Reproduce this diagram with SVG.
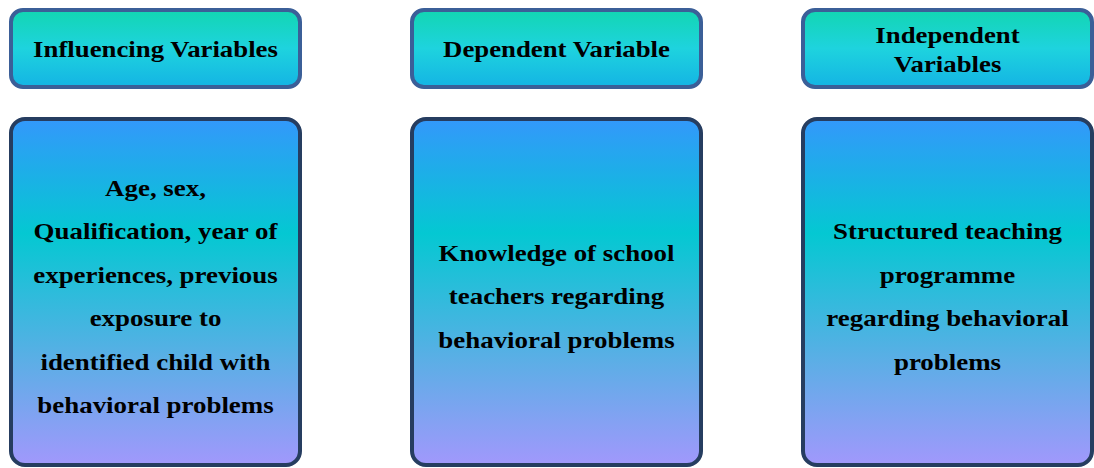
<svg xmlns="http://www.w3.org/2000/svg" width="1094" height="468" viewBox="0 0 1094 468">
  <defs>
    <linearGradient id="headFill" x1="0" y1="0" x2="0" y2="1">
      <stop offset="0" stop-color="#12d6b2"/>
      <stop offset="0.5" stop-color="#1ed3de"/>
      <stop offset="1" stop-color="#14b4e4"/>
    </linearGradient>
    <linearGradient id="bodyFill" x1="0" y1="0" x2="0" y2="1">
      <stop offset="0" stop-color="#3398fb"/>
      <stop offset="0.33" stop-color="#04c8d2"/>
      <stop offset="0.7" stop-color="#5caee6"/>
      <stop offset="1" stop-color="#a198fc"/>
    </linearGradient>
  </defs>
  <style>
    .head { fill: url(#headFill); stroke: #3b5f98; stroke-width: 4; }
    .body { fill: url(#bodyFill); stroke: #263d60; stroke-width: 4; }
    .label { font-family: "Liberation Serif", "Times New Roman", serif; font-weight: bold; font-size: 23px; fill: #000; text-anchor: middle; }
  </style>

  <!-- Column headers (labels widened horizontally) -->
  <g id="head-influencing">
    <rect class="head" x="11" y="10" width="289" height="77" rx="12"/>
    <g transform="translate(155.5 0) scale(1.165 1)">
      <text class="label" x="0" y="57">Influencing Variables</text>
    </g>
  </g>
  <g id="head-dependent">
    <rect class="head" x="412" y="10" width="289" height="77" rx="12"/>
    <g transform="translate(556.5 0) scale(1.165 1)">
      <text class="label" x="0" y="57">Dependent Variable</text>
    </g>
  </g>
  <g id="head-independent">
    <rect class="head" x="803" y="10" width="289" height="77" rx="12"/>
    <g transform="translate(947.5 0) scale(1.165 1)">
      <text class="label" x="0" y="43">Independent</text>
      <text class="label" x="0" y="72">Variables</text>
    </g>
  </g>

  <!-- Column contents -->
  <g id="body-influencing">
    <rect class="body" x="11" y="119" width="289" height="346" rx="14"/>
    <g transform="translate(155.5 0) scale(1.17 1)">
      <text class="label" x="0" y="196">Age, sex,</text>
      <text class="label" x="0" y="239.5">Qualification, year of</text>
      <text class="label" x="0" y="283">experiences, previous</text>
      <text class="label" x="0" y="326.5">exposure to</text>
      <text class="label" x="0" y="370">identified child with</text>
      <text class="label" x="0" y="413.5">behavioral problems</text>
    </g>
  </g>
  <g id="body-dependent">
    <rect class="body" x="412" y="119" width="289" height="346" rx="14"/>
    <g transform="translate(556.5 0) scale(1.17 1)">
      <text class="label" x="0" y="261">Knowledge of school</text>
      <text class="label" x="0" y="304.5">teachers regarding</text>
      <text class="label" x="0" y="348">behavioral problems</text>
    </g>
  </g>
  <g id="body-independent">
    <rect class="body" x="803" y="119" width="289" height="346" rx="14"/>
    <g transform="translate(947.5 0) scale(1.17 1)">
      <text class="label" x="0" y="239">Structured teaching</text>
      <text class="label" x="0" y="283">programme</text>
      <text class="label" x="0" y="326">regarding behavioral</text>
      <text class="label" x="0" y="370">problems</text>
    </g>
  </g>

  <!-- No connectors between columns -->
  <g id="connectors"/>
</svg>
